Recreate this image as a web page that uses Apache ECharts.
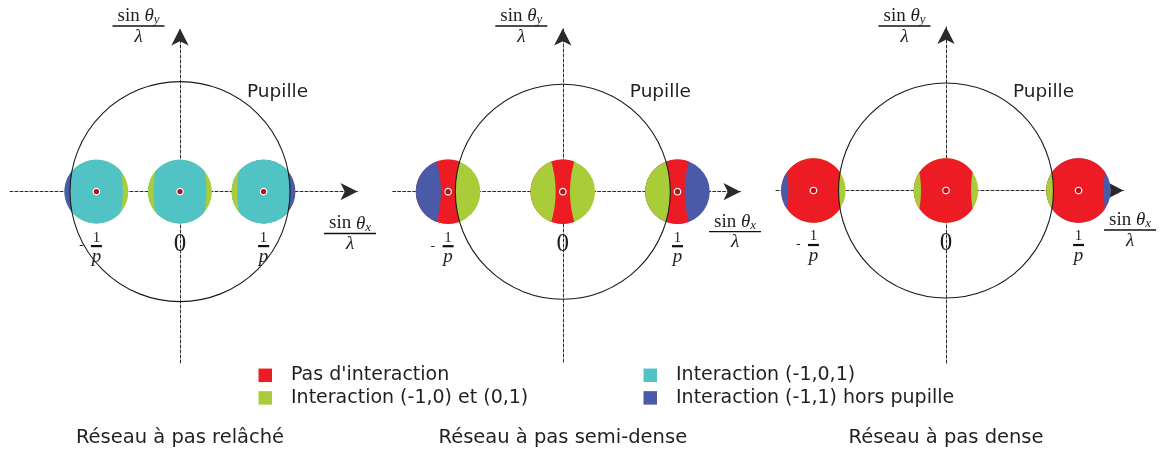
<!DOCTYPE html>
<html><head><meta charset="utf-8">
<script src="https://cdn.jsdelivr.net/npm/echarts@6/dist/echarts.min.js"></script>
<style>html,body{margin:0;padding:0;background:#fff}#c{width:1161px;height:450px}</style>
</head><body><div id="c"></div>
<script>
// ---------------- data ----------------
const panelTitles = ['Réseau à pas relâché', 'Réseau à pas semi-dense', 'Réseau à pas dense'];
const pupilRadius = [1.0, 1.0, 1.0];        // NA/λ (normalised)
const sourceSigma = [0.29, 0.30, 0.30];     // radius of each diffraction disc
const gratingFreq = [0.76, 1.067, 1.233];   // 1/p in units of NA/λ
const diffractionOrders = [-1, 0, 1];
const tickLabels = ['-1/p', '0', '1/p'];
const pupilLabel = 'Pupille';
const legendNames = ["Pas d'interaction", 'Interaction (-1,0) et (0,1)', 'Interaction (-1,0,1)', 'Interaction (-1,1) hors pupille'];
const legendColors = ['#ed1c24', '#a8cd38', '#51c3c4', '#4a5aa8'];

// ---------------- layout ----------------
const origin = [[180, 191.6], [562.8, 191.7], [946, 190.5]];
const pxPerUnit = [110, 107.5, 107.5];
const xStart = [10, 392.7, 776];
const xTip = [366, 749, 1132];
const yTip = [20, 20, 18.5];
const yEnd = [363, 362, 363];
const ARROW = [13, 17];
const xTitlePos = [[350, 233.5], [735, 231.7], [1130, 230]];
const SERIF = 'Liberation Serif';
const SANS = 'DejaVu Sans';
const INK = '#231f20';

// colour class of a point q (in disc of order k)
function classify(qx, qy, k, s, R) {
  const inP = x => x * x + qy * qy < R * R;
  const self = inP(qx);
  let others = 0;
  for (const j of diffractionOrders) if (j !== k && inP(qx + (j - k) * s)) others++;
  if (self) return others === 2 ? 2 : (others === 1 ? 1 : 0);
  return others === 2 ? 3 : 0;
}

function makeDiscRenderer(pi) {
  return function (params, api) {
    const cx = api.value(0), k = api.value(2);
    const s = gratingFreq[pi], R = pupilRadius[pi], r = sourceSigma[pi];
    const arcs = [];
    for (const j of diffractionOrders) {
      const c = (k - j) * s;
      for (const sg of [-1, 1]) {
        const x0 = c + sg * R;
        if (Math.abs(x0 - cx) < r) arcs.push({ c, sg, x0 });
      }
    }
    arcs.sort((a, b) => a.x0 - b.x0);
    const edges = [cx - r].concat(arcs.map(a => a.x0), [cx + r]);
    const bandColor = [];
    for (let i = 0; i < edges.length - 1; i++) {
      bandColor.push(legendColors[classify((edges[i] + edges[i + 1]) / 2, 0, k, s, R)]);
    }
    const c0 = api.coord([cx, 0]);
    const children = [{
      type: 'circle', shape: { cx: c0[0], cy: c0[1], r: api.size([r, 0])[0] },
      style: { fill: bandColor[bandColor.length - 1] }
    }];
    const N = 180;
    for (let i = arcs.length - 1; i >= 0; i--) {
      const a = arcs[i];
      const left = [], right = [];
      for (let n = 0; n <= N; n++) {
        const t = Math.PI / 2 - Math.PI * n / N;
        const y = r * Math.sin(t);
        const hw = r * Math.cos(t);
        const xl = cx - hw;
        const xa = a.c + a.sg * Math.sqrt(R * R - y * y);
        const xr = Math.min(cx + hw, xa);
        if (xr > xl) { left.push(api.coord([xl, y])); right.push(api.coord([xr, y])); }
      }
      children.push({ type: 'polygon', shape: { points: left.concat(right.reverse()) }, style: { fill: bandColor[i] } });
    }
    return { type: 'group', children };
  };
}

function tickRich(label) {
  if (!label) return '';
  if (label.indexOf('/') < 0) return '{zero|' + label + '}';
  let [num, den] = label.split('/');
  const neg = num.charAt(0) === '-';
  if (neg) num = num.slice(1);
  return '{one|' + num + '}\n' + (neg ? '{m|-}{bar|}{sp|}' : '{bar|}') + '\n{p|' + den + '}';
}
const tickRichStyles = {
  one: { fontFamily: SERIF, fontSize: 15, lineHeight: 12, align: 'center', fill: INK },
  m: { fontFamily: SANS, fontSize: 13, width: 12, lineHeight: 5, align: 'left', fill: INK },
  bar: { width: 11, height: 2.2, lineHeight: 5, backgroundColor: '#111', align: 'center' },
  sp: { width: 12, lineHeight: 5, align: 'right' },
  p: { fontFamily: SERIF, fontStyle: 'italic', fontSize: 19, lineHeight: 16, align: 'center', fill: INK },
  zero: { fontFamily: SERIF, fontSize: 25, lineHeight: 26, align: 'center', fill: INK }
};

const grids = [], xAxes = [], yAxes = [], series = [], graphics = [];
for (let i = 0; i < 3; i++) {
  const [ox, oy] = origin[i], k = pxPerUnit[i];
  const xEndPx = xTip[i] - ARROW[1] / 2;
  const yTopPx = yTip[i] + ARROW[1] / 2;
  grids.push({ left: xStart[i], top: yTopPx, width: xEndPx - xStart[i], height: yEnd[i] - yTopPx });
  const axisLine = { show: true, onZero: true, symbol: ['none', 'arrow'], symbolSize: ARROW,
    lineStyle: { color: '#2a2a2a', width: 1, type: [3, 2] } };
  const s = gratingFreq[i];
  xAxes.push({
    type: 'value', gridIndex: i, min: (xStart[i] - ox) / k, max: (xEndPx - ox) / k,
    axisLine, axisTick: { show: false }, splitLine: { show: false }, axisLabel: { show: false }
  });
  yAxes.push({
    type: 'value', gridIndex: i, min: -(yEnd[i] - oy) / k, max: (oy - yTopPx) / k,
    axisLine, axisTick: { show: false }, splitLine: { show: false }, axisLabel: { show: false }
  });
  series.push({
    type: 'custom', name: 'discs' + i, xAxisIndex: i, yAxisIndex: i, z: 3, silent: true,
    encode: { x: 0, y: 1 },
    data: diffractionOrders.map(o => [o * s, 0, o]),
    renderItem: makeDiscRenderer(i)
  });
  series.push({
    type: 'custom', name: 'pupil' + i, xAxisIndex: i, yAxisIndex: i, z: 4, silent: true,
    encode: { x: 0, y: 1 },
    data: [[0, 0, pupilRadius[i]]],
    renderItem: (params, api) => {
      const c = api.coord([api.value(0), api.value(1)]);
      return { type: 'circle', shape: { cx: c[0], cy: c[1], r: api.size([api.value(2), 0])[0] },
        style: { fill: 'none', stroke: '#1a1a1a', lineWidth: 1.1 } };
    }
  });
  series.push({
    type: 'scatter', name: 'centres' + i, xAxisIndex: i, yAxisIndex: i, z: 5, silent: true,
    symbol: 'circle', symbolSize: 6.5,
    itemStyle: { color: '#b5121b', borderColor: '#ffffff', borderWidth: 1.2, opacity: 1 },
    data: diffractionOrders.map(o => [o * s, 0])
  });
  // tick labels at the diffraction-order positions
  series.push({
    type: 'custom', name: 'ticks' + i, xAxisIndex: i, yAxisIndex: i, z: 6, silent: true,
    encode: { x: 0, y: 1 },
    data: diffractionOrders.map((o, j) => [o * s, 0, j]),
    renderItem: (params, api) => {
      const c = api.coord([api.value(0), api.value(1)]);
      return { type: 'text', x: c[0], y: c[1] + 40,
        style: { text: tickRich(tickLabels[api.value(2)]), align: 'center', verticalAlign: 'top', rich: tickRichStyles } };
    }
  });
  const fracRich = {
    n: { fontFamily: SERIF, fontSize: 19, lineHeight: 16, fill: INK },
    t: { fontFamily: SERIF, fontStyle: 'italic', fontSize: 19, lineHeight: 16, fill: INK },
    s: { fontFamily: SERIF, fontStyle: 'italic', fontSize: 13, lineHeight: 16, padding: [8, 0, 0, 0], fill: INK },
    bar: { width: 52, height: 1.3, lineHeight: 4, backgroundColor: '#111' },
    d: { fontFamily: SERIF, fontStyle: 'italic', fontSize: 19, lineHeight: 17, fill: INK }
  };
  graphics.push({ type: 'text', x: ox - 41.5, y: 26.5, z: 10,
    style: { text: '{n|sin }{t|θ}{s|y}\n{bar|}\n{d|λ}', align: 'center', verticalAlign: 'middle', rich: fracRich } });
  graphics.push({ type: 'text', x: xTitlePos[i][0], y: xTitlePos[i][1] + 0.5, z: 10,
    style: { text: '{n|sin }{t|θ}{s|x}\n{bar|}\n{d|λ}', align: 'center', verticalAlign: 'middle', rich: fracRich } });
  graphics.push({ type: 'text', x: ox + 67, y: 92, z: 10,
    style: { text: pupilLabel, fontFamily: SANS, fontSize: 18.5, fill: INK, align: 'left', verticalAlign: 'middle' } });
}
legendNames.forEach((nm, idx) => series.push({
  type: 'scatter', name: nm, xAxisIndex: 0, yAxisIndex: 0, data: [],
  itemStyle: { color: legendColors[idx], opacity: 1 }
}));

const legendCommon = {
  orient: 'vertical', top: 365.3, padding: 0, itemWidth: 13.5, itemHeight: 13.5, itemGap: 2.6,
  icon: 'rect', selectedMode: false,
  itemStyle: { opacity: 1 },
  textStyle: { fontFamily: SANS, fontSize: 19, lineHeight: 20, color: INK, padding: [0, 0, 0, 14] }
};

const chart = echarts.init(document.getElementById('c'), null, { renderer: 'canvas' });
chart.setOption({
  animation: false,
  backgroundColor: '#ffffff',
  title: panelTitles.map((t, i) => ({
    text: t, left: origin[i][0], top: 428, textAlign: 'center', padding: 0,
    textStyle: { fontFamily: SANS, fontSize: 19.5, fontWeight: 'normal', color: INK }
  })),
  legend: [
    Object.assign({}, legendCommon, { left: 258.5, data: [legendNames[0], legendNames[1]] }),
    Object.assign({}, legendCommon, { left: 643.5, data: [legendNames[2], legendNames[3]] })
  ],
  grid: grids, xAxis: xAxes, yAxis: yAxes, series, graphic: graphics
});
</script></body></html>
